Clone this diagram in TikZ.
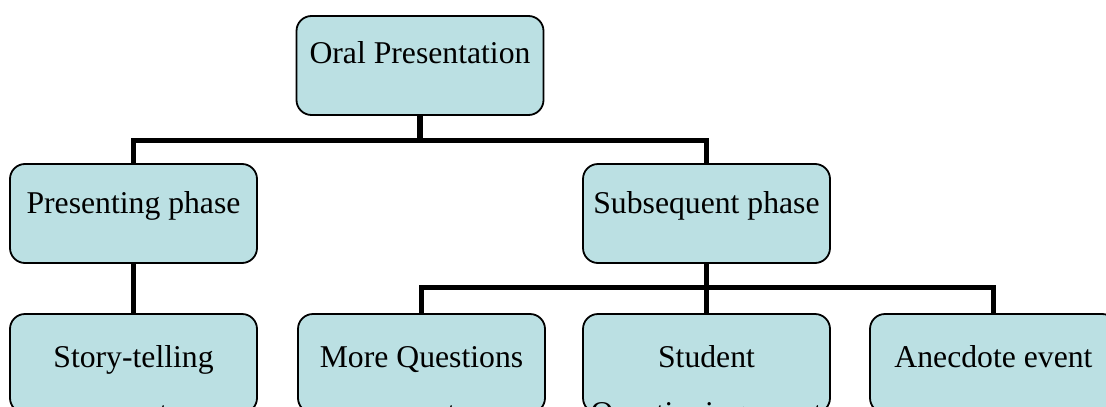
\documentclass[tikz,border=0pt]{standalone}
\usepackage{fontspec}
\setmainfont{Liberation Serif}
\definecolor{boxfill}{RGB}{187,224,227}
\begin{document}
\begin{tikzpicture}[x=1pt,y=-1pt,
  box/.style={draw=black, line width=1.8pt, fill=boxfill, rounded corners=15pt,
    minimum width=247pt, minimum height=99pt, inner sep=0pt, outer sep=0pt},
  lbl/.style={anchor=base, inner sep=0pt, font=\fontsize{31.7}{38}\selectfont},
  conn/.style={draw=black, line width=5.5pt, line join=miter, line cap=rect}]
\useasboundingbox (0,0) rectangle (1106,407);
\clip (0,0) rectangle (1106,407);
\fill[white] (0,0) rectangle (1106,407);
% connectors first (behind boxes)
\coordinate (b1) at (420,140.5);
\coordinate (b2) at (706.5,287.5);
% boxes
\node[box] (top) at (420,65.5) {};
\node[box] (pres) at (133.5,213.5) {};
\node[box] (subs) at (706.5,213.5) {};
\node[box] (story) at (133.5,363.5) {};
\node[box] (mq) at (421.5,363.5) {};
\node[box] (stud) at (706.5,363.5) {};
\node[box] (anec) at (993.5,363.5) {};
% connectors
\begin{scope}[on background layer/.try]
\end{scope}
\draw[conn, line cap=butt] (top.south) -- (b1);
\draw[conn, line cap=butt] (pres.north) |- (b1) -| (subs.north);
\draw[conn, line cap=butt] (pres.south) -- (story.north);
\draw[conn, line cap=butt] (subs.south) -- (b2);
\draw[conn, line cap=butt] (mq.north) |- (b2) -| (anec.north);
\draw[conn, line cap=butt] (b2) -- (stud.north);
% labels
\node[lbl] (t1) at (420,63) {Oral Presentation};
\node[lbl] (t2) at (133.5,213) {Presenting phase};
\node[lbl] (t3) at (706.5,213) {Subsequent phase};
\node[lbl] (t4) at (133.5,367) {Story-telling};
\node[lbl] (t4b) at (133.5,423) {event};
\node[lbl] (t5) at (421.5,367) {More Questions};
\node[lbl] (t5b) at (421.5,423) {event};
\node[lbl] (t6) at (706.5,367) {Student};
\node[lbl] (t6b) at (706.5,423) {Questioning event};
\node[lbl] (t7) at (993.5,367) {Anecdote event};
\end{tikzpicture}
\end{document}
